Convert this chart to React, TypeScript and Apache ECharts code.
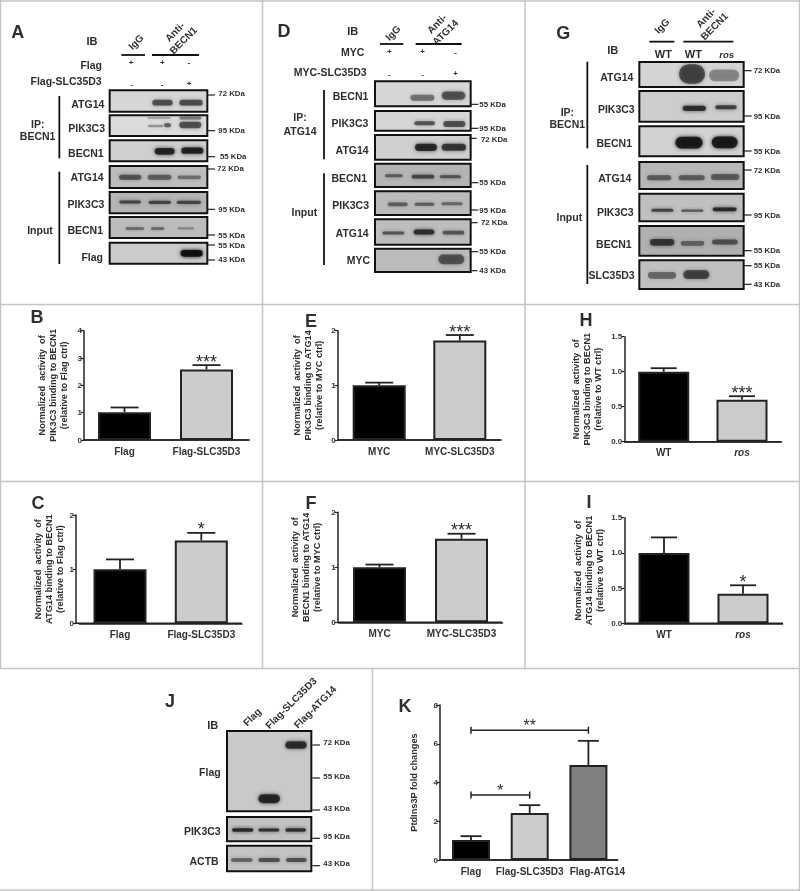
import React, { useEffect, useRef } from "react";
import * as echarts from "echarts";

// ---------- chart data ----------
const flagCats = ["Flag", "Flag-SLC35D3"];
const mycCats = ["MYC", "MYC-SLC35D3"];
const wtCats = ["WT", "ros"];
const kCats = ["Flag", "Flag-SLC35D3", "Flag-ATG14"];

const bValues = [1.02, 2.58];
const bUpper = [1.19, 2.74];
const bStars = ["", "***"];
const cValues = [1.0, 1.53];
const cUpper = [1.18, 1.67];
const cStars = ["", "*"];
const eValues = [1.0, 1.82];
const eUpper = [1.05, 1.92];
const eStars = ["", "***"];
const fValues = [1.0, 1.52];
const fUpper = [1.05, 1.61];
const fStars = ["", "***"];
const hValues = [1.0, 0.6];
const hUpper = [1.05, 0.65];
const hStars = ["", "***"];
const iValues = [1.0, 0.42];
const iUpper = [1.22, 0.54];
const iStars = ["", "*"];
const kValues = [1.03, 2.42, 4.9];
const kUpper = [1.23, 2.83, 6.15];
const kStars = ["", "", ""];
const kBrackets = [
  [0, 1, 3.35, "*"],
  [0, 2, 6.7, "**"],
];

const INK = "#222222";
const TEXT = "#2e2e2e";
const FONT = "'Liberation Sans', Arial, sans-serif";
const twoColors = ["#000000", "#cccccc"];
const threeColors = ["#000000", "#cccccc", "#808080"];

const plots = [
  { cats: flagCats, vals: bValues, up: bUpper, stars: bStars, colors: twoColors, axisX: 84, right: 250, c1: 124.5, sp: 82, yTop: 330.7, y0: 440, max: 4, step: 1, dec: 0, barW: 53, cap: 14, gap: 15,
    name: "Normalized  activity  of\nPIK3C3 binding to BECN1\n(relative to Flag ctrl)" },
  { cats: flagCats, vals: cValues, up: cUpper, stars: cStars, colors: twoColors, axisX: 76, right: 242, c1: 120, sp: 81.3, yTop: 515, y0: 623.3, max: 2, step: 1, dec: 0, barW: 53, cap: 14, gap: 10,
    name: "Normalized  activity  of\nATG14 binding to BECN1\n(relative to Flag ctrl)" },
  { cats: mycCats, vals: eValues, up: eUpper, stars: eStars, colors: twoColors, axisX: 337.7, right: 501.7, c1: 379.2, sp: 80.6, yTop: 330.7, y0: 440, max: 2, step: 1, dec: 0, barW: 53, cap: 14, gap: 13,
    name: "Normalized  activity  of\nPIK3C3 binding to ATG14\n(relative to MYC ctrl)" },
  { cats: mycCats, vals: fValues, up: fUpper, stars: fStars, colors: twoColors, axisX: 337.7, right: 502, c1: 379.5, sp: 82, yTop: 512.3, y0: 622.3, max: 2, step: 1, dec: 0, barW: 53, cap: 14, gap: 15,
    name: "Normalized  activity  of\nBECN1 binding to ATG14\n(relative to MYC ctrl)" },
  { cats: wtCats, vals: hValues, up: hUpper, stars: hStars, colors: twoColors, axisX: 624.3, right: 781.7, c1: 663.7, sp: 78.3, yTop: 336.7, y0: 441.7, max: 1.5, step: 0.5, dec: 1, barW: 51, cap: 13, gap: 21,
    name: "Normalized  activity  of\nPIK3C3 binding to BECN1\n(relative to WT ctrl)" },
  { cats: wtCats, vals: iValues, up: iUpper, stars: iStars, colors: twoColors, axisX: 624.3, right: 783, c1: 664, sp: 79, yTop: 517.7, y0: 623.3, max: 1.5, step: 0.5, dec: 1, barW: 51, cap: 13, gap: 19,
    name: "Normalized  activity  of\nATG14 binding to BECN1\n(relative to WT ctrl)" },
  { cats: kCats, vals: kValues, up: kUpper, stars: kStars, colors: threeColors, axisX: 440, right: 618, c1: 471, sp: 58.7, yTop: 705, y0: 860, max: 8, step: 2, dec: 0, barW: 38, cap: 10.5, gap: 21,
    name: "PtdIns3P fold changes" },
];

// ---------- blot drawings, in 3x-zoom coordinates of each panel ----------
type Band = number[]; // x1, x2, centre y, height, darkness
type Row = { y1: number; y2: number; bg: string; bands: Band[] };
type Blot = { ox: number; oy: number; x1: number; x2: number; rows: Row[] };

const blots: Blot[] = [
  { ox: 0, oy: 0, x1: 329, x2: 622, rows: [
    { y1: 271, y2: 335, bg: "#d6d6d6", bands: [[457, 518, 308, 14, 0.6], [538, 608, 308, 14, 0.6]] },
    { y1: 346, y2: 408, bg: "#dcdcdc", bands: [[444, 490, 378, 5, 0.3], [492, 513, 376, 9, 0.55], [442, 513, 354, 3, 0.25], [538, 604, 375, 16, 0.6], [538, 604, 354, 6, 0.45]] },
    { y1: 421, y2: 484, bg: "#cfcfcf", bands: [[464, 524, 454, 17, 0.8], [544, 610, 452, 16, 0.82]] },
    { y1: 498, y2: 564, bg: "#bdbdbd", bands: [[357, 424, 532, 12, 0.55], [443, 514, 532, 12, 0.5], [532, 603, 532, 8, 0.38]] },
    { y1: 576, y2: 640, bg: "#b5b5b5", bands: [[358, 423, 606, 6, 0.62], [446, 513, 607, 7, 0.62], [530, 603, 607, 7, 0.62]] },
    { y1: 651, y2: 714, bg: "#bcbcbc", bands: [[377, 432, 686, 5, 0.45], [453, 493, 686, 5, 0.45], [533, 583, 685, 4, 0.28]] },
    { y1: 728, y2: 791, bg: "#cbcbcb", bands: [[542, 608, 760, 17, 0.95]] },
  ] },
  { ox: 265, oy: 0, x1: 330, x2: 617, rows: [
    { y1: 244, y2: 319, bg: "#d6d6d6", bands: [[436, 508, 293, 15, 0.45], [530, 601, 287, 22, 0.58]] },
    { y1: 333, y2: 392, bg: "#d6d6d6", bands: [[448, 510, 370, 9, 0.58], [535, 601, 372, 15, 0.6]] },
    { y1: 405, y2: 479, bg: "#d0d0d0", bands: [[450, 516, 442, 19, 0.78], [530, 603, 442, 18, 0.7]] },
    { y1: 491, y2: 561, bg: "#b5b5b5", bands: [[360, 413, 527, 6, 0.5], [440, 508, 530, 8, 0.62], [524, 588, 530, 6, 0.55]] },
    { y1: 574, y2: 645, bg: "#bbbbbb", bands: [[368, 428, 613, 8, 0.5], [449, 508, 613, 6, 0.5], [529, 593, 611, 6, 0.45]] },
    { y1: 658, y2: 734, bg: "#bdbdbd", bands: [[352, 418, 699, 6, 0.55], [446, 508, 696, 12, 0.75], [533, 598, 698, 8, 0.55]] },
    { y1: 746, y2: 816, bg: "#bcbcbc", bands: [[520, 598, 778, 26, 0.55]] },
  ] },
  { ox: 530, oy: 0, x1: 328, x2: 641, rows: [
    { y1: 186, y2: 261, bg: "#d4d4d4", bands: [[447, 525, 222, 56, 0.62], [537, 628, 226, 32, 0.32]] },
    { y1: 273, y2: 365, bg: "#cdcdcd", bands: [[458, 528, 325, 13, 0.75], [556, 620, 322, 9, 0.68]] },
    { y1: 379, y2: 469, bg: "#d2d2d2", bands: [[436, 518, 428, 32, 0.85], [545, 623, 427, 32, 0.85]] },
    { y1: 486, y2: 567, bg: "#b8b8b8", bands: [[351, 424, 533, 12, 0.5], [446, 524, 533, 12, 0.5], [543, 628, 531, 15, 0.5]] },
    { y1: 581, y2: 664, bg: "#c0c0c0", bands: [[364, 430, 631, 6, 0.65], [454, 520, 632, 4, 0.55], [548, 620, 628, 8, 0.78]] },
    { y1: 678, y2: 767, bg: "#b0b0b0", bands: [[360, 433, 727, 17, 0.68], [452, 523, 730, 11, 0.45], [546, 623, 726, 12, 0.55]] },
    { y1: 781, y2: 867, bg: "#c0c0c0", bands: [[354, 438, 826, 17, 0.45], [460, 538, 824, 23, 0.62]] },
  ] },
  { ox: 150, oy: 670, x1: 231, x2: 484, rows: [
    { y1: 183, y2: 424, bg: "#c9c9c9", bands: [[406, 470, 225, 20, 0.75], [325, 390, 386, 24, 0.78]] },
    { y1: 441, y2: 514, bg: "#c2c2c2", bands: [[246, 310, 480, 7, 0.8], [325, 388, 480, 6, 0.75], [406, 468, 480, 7, 0.75]] },
    { y1: 527, y2: 604, bg: "#c4c4c4", bands: [[243, 308, 570, 8, 0.5], [325, 390, 570, 9, 0.58], [408, 470, 570, 9, 0.58]] },
  ] },
];

type L = [string, number, number, "left" | "center" | "right"];
type Panel = {
  ox: number; oy: number;
  letter: [string, number, number];
  labels: L[];
  rules: number[][];
  ticks: [number, number, number][];
  kda: [string, number, number][];
};

const panels: Panel[] = [
  { ox: 0, oy: 0, letter: ["A", 53, 97],
    labels: [["IB", 276, 122, "center"], ["Flag", 306, 195, "right"], ["Flag-SLC35D3", 305, 243, "right"],
      ["ATG14", 313, 312, "right"], ["PIK3C3", 315, 385, "right"], ["BECN1", 311, 458, "right"],
      ["ATG14", 311, 532, "right"], ["PIK3C3", 313, 612, "right"], ["BECN1", 309, 690, "right"], ["Flag", 309, 772, "right"],
      ["IP:", 113, 372, "center"], ["BECN1", 113, 408, "center"], ["Input", 120, 690, "center"],
      ["+", 393, 187, "center"], ["+", 487, 187, "center"], ["-", 567, 187, "center"], ["-", 395, 253, "center"], ["-", 486, 253, "center"], ["+", 567, 251, "center"]],
    rules: [[364, 165, 435, 165], [456, 165, 597, 165], [178, 288, 178, 475], [178, 515, 178, 792]],
    ticks: [[622, 645, 285], [622, 645, 392], [622, 645, 470], [622, 645, 507], [622, 645, 628], [622, 645, 705], [622, 645, 735], [622, 645, 780]],
    kda: [["72 KDa", 655, 281], ["95 KDa", 655, 392], ["55 KDa", 660, 470], ["72 KDa", 652, 506], ["95 KDa", 655, 628], ["55 KDa", 655, 705], ["55 KDa", 655, 735], ["43 KDa", 655, 778]] },
  { ox: 265, oy: 0, letter: ["D", 57, 93],
    labels: [["IB", 263, 93, "center"], ["MYC", 298, 157, "right"], ["MYC-SLC35D3", 305, 217, "right"],
      ["BECN1", 310, 287, "right"], ["PIK3C3", 310, 370, "right"], ["ATG14", 311, 450, "right"],
      ["BECN1", 306, 533, "right"], ["PIK3C3", 312, 615, "right"], ["ATG14", 311, 700, "right"], ["MYC", 315, 780, "right"],
      ["IP:", 105, 350, "center"], ["ATG14", 105, 392, "center"], ["Input", 118, 637, "center"],
      ["+", 373, 155, "center"], ["+", 473, 155, "center"], ["-", 572, 157, "center"], ["-", 373, 222, "center"], ["-", 473, 222, "center"], ["+", 572, 219, "center"]],
    rules: [[345, 132, 415, 132], [452, 132, 590, 132], [177, 270, 177, 478], [177, 520, 177, 795]],
    ticks: [[618, 640, 313], [618, 640, 385], [612, 635, 415], [618, 640, 548], [618, 640, 630], [615, 638, 668], [612, 640, 755], [615, 638, 812]],
    kda: [["55 KDa", 643, 313], ["95 KDa", 643, 385], ["72 KDa", 648, 418], ["55 KDa", 643, 548], ["95 KDa", 643, 632], ["72 KDa", 648, 668], ["55 KDa", 643, 755], ["43 KDa", 643, 812]] },
  { ox: 530, oy: 0, letter: ["G", 100, 100],
    labels: [["IB", 248, 150, "center"], ["WT", 400, 163, "center"], ["WT", 490, 163, "center"],
      ["ATG14", 310, 230, "right"], ["PIK3C3", 314, 327, "right"], ["BECN1", 306, 428, "right"],
      ["ATG14", 304, 533, "right"], ["PIK3C3", 311, 635, "right"], ["BECN1", 305, 733, "right"], ["SLC35D3", 314, 825, "right"],
      ["IP:", 112, 335, "center"], ["BECN1", 112, 372, "center"], ["Input", 118, 650, "center"]],
    rules: [[358, 125, 433, 125], [460, 125, 610, 125], [172, 185, 172, 445], [172, 495, 172, 852]],
    ticks: [[642, 665, 212], [642, 665, 348], [642, 665, 453], [642, 665, 510], [642, 665, 645], [642, 665, 752], [642, 665, 797], [642, 665, 853]],
    kda: [["72 KDa", 671, 212], ["95 KDa", 671, 348], ["55 KDa", 671, 453], ["72 KDa", 671, 510], ["95 KDa", 671, 645], ["55 KDa", 671, 752], ["55 KDa", 671, 797], ["43 KDa", 671, 853]] },
  { ox: 150, oy: 670, letter: ["J", 60, 92],
    labels: [["IB", 188, 165, "center"], ["Flag", 212, 305, "right"], ["PIK3C3", 212, 482, "right"], ["ACTB", 206, 572, "right"]],
    rules: [],
    ticks: [[487, 510, 225], [487, 510, 324], [487, 510, 420], [487, 510, 505], [487, 510, 587]],
    kda: [["72 KDa", 520, 217], ["55 KDa", 520, 319], ["43 KDa", 520, 414], ["95 KDa", 520, 498], ["43 KDa", 520, 580]] },
];

// rotated column heads: text, x, y (px on page)
const slanted: [string, number, number][] = [
  ["IgG", 136, 42], ["Anti-\nBECN1", 179, 36],
  ["IgG", 393, 33], ["Anti-\nATG14", 441, 28],
  ["IgG", 662, 26], ["Anti-\nBECN1", 710, 22],
  ["Flag", 252, 717], ["Flag-SLC35D3", 291, 703], ["Flag-ATG14", 315, 707],
];
const chartLetters: [string, number, number][] = [
  ["B", 37, 317], ["C", 38, 503], ["E", 311, 321], ["F", 311, 503], ["H", 586, 320], ["I", 589, 502], ["K", 405, 706],
];
const dividers = [
  [0, 1, 800, 1], [0, 304.5, 800, 304.5], [0, 481.5, 800, 481.5], [0, 668.5, 800, 668.5], [0, 890, 800, 890],
  [0.5, 0, 0.5, 668], [262.5, 0, 262.5, 668], [525, 0, 525, 668], [799.5, 0, 799.5, 891], [372.5, 668, 372.5, 891],
];

function txt(text: string, x: number, y: number, align: string, fontSize: number, fontWeight: any = "bold", extra: any = {}) {
  return { type: "text", silent: true, x, y, ...extra,
    style: { text, x: 0, y: 0, align, verticalAlign: "middle", fontSize, fontWeight, fontFamily: FONT, fill: TEXT, lineHeight: 12 } };
}
function line(x1: number, y1: number, x2: number, y2: number, width: number, stroke: string) {
  return { type: "line", silent: true, shape: { x1, y1, x2, y2 }, style: { stroke, lineWidth: width } };
}

function buildGraphics() {
  const out: any[] = [];
  for (const d of dividers) out.push(line(d[0], d[1], d[2], d[3], 1.5, "#c4c4c4"));
  for (const b of blots) {
    for (const r of b.rows) {
      const x = b.ox + b.x1 / 3, y = b.oy + r.y1 / 3, w = (b.x2 - b.x1) / 3, h = (r.y2 - r.y1) / 3;
      out.push({ type: "rect", silent: true, shape: { x, y, width: w, height: h }, style: { fill: r.bg } });
      for (const q of r.bands) {
        const bh = q[3] / 3 + 1;
        const col = `rgba(15,15,15,${q[4]})`;
        out.push({ type: "rect", silent: true,
          shape: { x: b.ox + q[0] / 3, y: b.oy + q[2] / 3 - bh / 2, width: (q[1] - q[0]) / 3, height: bh, r: bh / 2 },
          style: { fill: col, shadowBlur: 4, shadowColor: col } });
      }
      out.push({ type: "rect", silent: true, shape: { x, y, width: w, height: h }, style: { fill: "none", stroke: "#111111", lineWidth: 2 } });
    }
  }
  for (const p of panels) {
    const X = (v: number) => p.ox + v / 3, Y = (v: number) => p.oy + v / 3;
    out.push(txt(p.letter[0], X(p.letter[1]), Y(p.letter[2]), "center", 18));
    for (const l of p.labels) {
      const mark = l[0] === "+" || l[0] === "-";
      out.push(txt(l[0], X(l[1]), Y(l[2]), l[3], mark ? 8 : l[0] === "IB" || l[0] === "WT" ? 11 : 10.5));
    }
    for (const r of p.rules) out.push(line(X(r[0]), Y(r[1]), X(r[2]), Y(r[3]), 1.8, "#111111"));
    for (const t of p.ticks) out.push(line(X(t[0]), Y(t[2]), X(t[1]), Y(t[2]), 1.2, "#222222"));
    for (const k of p.kda) out.push(txt(k[0], X(k[1]), Y(k[2]), "left", 7.8));
  }
  out.push(txt("ros", 530 + 590 / 3, 162 / 3, "center", 9.5, "bold", {}));
  out[out.length - 1].style.fontStyle = "italic";
  for (const s of slanted) out.push(txt(s[0], s[1], s[2], "center", 10, "bold", { rotation: Math.PI / 4 }));
  for (const c of chartLetters) out.push(txt(c[0], c[1], c[2], "center", 18));
  for (const p of plots) out.push(line(p.axisX, p.y0, p.right, p.y0, 1.5, INK));
  return out;
}

function buildOption() {
  const grid: any[] = [], xAxis: any[] = [], yAxis: any[] = [], series: any[] = [];
  plots.forEach((p, i) => {
    const n = p.cats.length;
    const left = p.c1 - p.sp / 2;
    grid.push({ left, width: p.sp * n, top: p.yTop, height: p.y0 - p.yTop, containLabel: false });
    xAxis.push({
      type: "category", gridIndex: i, data: p.cats,
      axisLine: { lineStyle: { color: INK, width: 1.5 } },
      axisTick: { alignWithLabel: true, length: 3, lineStyle: { color: INK, width: 1.2 } },
      axisLabel: {
        margin: 6, fontSize: 10, fontWeight: "bold", fontFamily: FONT, color: "#333333", interval: 0,
        formatter: (v: string) => (v === "ros" ? `{it|${v}}` : v === "Flag-ATG14" ? `{shift|${v}}` : v),
        rich: {
          it: { fontStyle: "italic", fontSize: 10, fontWeight: "bold", fontFamily: FONT, color: "#333333" },
          shift: { fontSize: 10, fontWeight: "bold", fontFamily: FONT, color: "#333333", padding: [0, 0, 0, 18] },
        },
      },
    });
    yAxis.push({
      type: "value", gridIndex: i, min: 0, max: p.max, interval: p.step, offset: left - p.axisX,
      name: p.name, nameLocation: "middle", nameRotate: 90, nameGap: p.gap,
      nameTextStyle: { fontSize: 9.2, fontWeight: "bold", fontFamily: FONT, color: TEXT, lineHeight: 11 },
      splitLine: { show: false },
      axisLine: { show: true, lineStyle: { color: INK, width: 1.5 } },
      axisTick: { show: true, length: 3, lineStyle: { color: INK, width: 1.2 } },
      axisLabel: { margin: 2, fontSize: 8, fontWeight: "bold", fontFamily: FONT, color: "#333333",
        formatter: (v: number) => v.toFixed(p.dec) },
    });
    series.push({
      type: "bar", xAxisIndex: i, yAxisIndex: i, barWidth: p.barW, silent: true,
      data: p.vals.map((v, j) => ({ value: v, itemStyle: { color: p.colors[j], borderColor: INK, borderWidth: 2 } })),
    });
    series.push({
      type: "custom", xAxisIndex: i, yAxisIndex: i, silent: true, z: 3,
      data: p.vals.map((v, j) => [j, v, p.up[j]]),
      encode: { x: 0, y: [1, 2] },
      renderItem: (params: any, api: any) => {
        const a = api.coord([api.value(0), api.value(1)]);
        const b = api.coord([api.value(0), api.value(2)]);
        const st = { stroke: INK, lineWidth: 1.8 };
        const kids: any[] = [
          { type: "line", shape: { x1: a[0], y1: a[1], x2: b[0], y2: b[1] }, style: st },
          { type: "line", shape: { x1: b[0] - p.cap, y1: b[1], x2: b[0] + p.cap, y2: b[1] }, style: st },
        ];
        const s = p.stars[params.dataIndex];
        if (s) kids.push({ type: "text", style: { text: s, x: b[0], y: b[1] - 3.5, align: "center", verticalAlign: "middle", fontSize: 18, fontFamily: FONT, fill: TEXT } });
        return { type: "group", children: kids };
      },
    });
  });
  const ki = plots.length - 1;
  series.push({
    type: "custom", xAxisIndex: ki, yAxisIndex: ki, silent: true, z: 3,
    data: kBrackets.map((b) => [b[0], b[1], b[2]]),
    encode: { x: [0, 1], y: 2 },
    renderItem: (params: any, api: any) => {
      const a = api.coord([api.value(0), api.value(2)]);
      const b = api.coord([api.value(1), api.value(2)]);
      const st = { stroke: INK, lineWidth: 1.5 };
      return { type: "group", children: [
        { type: "line", shape: { x1: a[0], y1: a[1], x2: b[0], y2: b[1] }, style: st },
        { type: "line", shape: { x1: a[0], y1: a[1] - 3.5, x2: a[0], y2: a[1] + 3.5 }, style: st },
        { type: "line", shape: { x1: b[0], y1: b[1] - 3.5, x2: b[0], y2: b[1] + 3.5 }, style: st },
        { type: "text", style: { text: String(kBrackets[params.dataIndex][3]), x: (a[0] + b[0]) / 2, y: a[1] - 5, align: "center", verticalAlign: "middle", fontSize: 16, fontFamily: FONT, fill: TEXT } },
      ] };
    },
  });
  return { animation: false, backgroundColor: "#ffffff", grid, xAxis, yAxis, series, graphic: { elements: buildGraphics() } };
}

export default function App() {
  const ref = useRef<HTMLDivElement>(null);
  useEffect(() => {
    document.body.style.margin = "0";
    const chart = echarts.init(ref.current!, null, { renderer: "svg" });
    chart.setOption(buildOption() as any);
    return () => chart.dispose();
  }, []);
  return <div ref={ref} style={{ width: 800, height: 891, filter: "blur(0.45px)" }} />;
}
